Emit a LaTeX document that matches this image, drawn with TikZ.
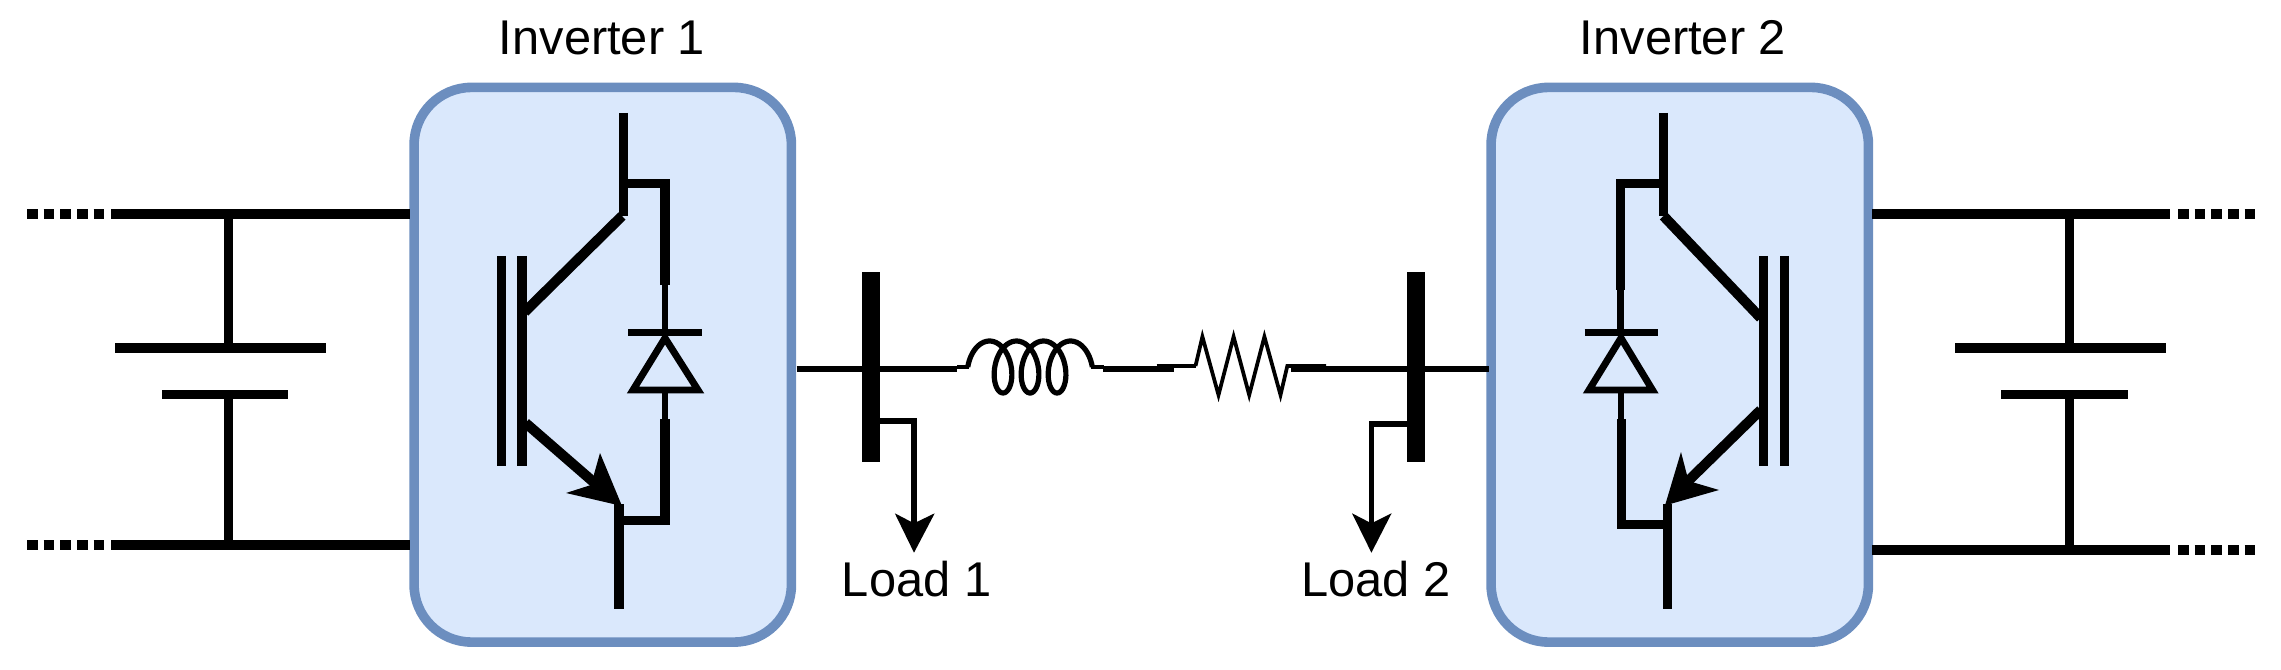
\documentclass[tikz,border=0pt]{standalone}
\usepackage{fontspec}
\setmainfont{Liberation Sans}
\definecolor{boxedge}{HTML}{6C8EBF}
\definecolor{boxfill}{HTML}{DAE8FC}
\tikzset{
  invbox/.style={draw=boxedge,fill=boxfill,line width=7.2pt,rounded corners=43pt,inner sep=0pt,minimum width=283pt,minimum height=416pt},
  bus/.style={line width=7.5pt,black},
  dots/.style={line width=7.5pt,black,dash pattern=on 7.9pt off 4.6pt},
  stem/.style={line width=7pt,black},
  plate/.style={line width=7.2pt,black},
  lead/.style={line width=6.8pt,black,line join=miter},
  thinlead/.style={line width=4.8pt,black},
  diag/.style={line width=7.6pt,black},
  gate/.style={line width=6.8pt,black},
  diode/.style={line width=5.2pt,black,line join=miter},
  tipfill/.style={fill=black,draw=none},
  barnode/.style={fill=black,draw=none,inner sep=0pt,minimum width=14pt,minimum height=142.5pt},
  feeder/.style={line width=4pt,black},
  stepline/.style={line width=3pt,black},
  coilline/.style={line width=3.9pt,black},
  resline/.style={line width=2.8pt,black,line join=miter},
  loadline/.style={line width=4pt,black},
  lbl/.style={font=\fontsize{36.6pt}{40pt}\selectfont,text=black,inner sep=0pt,anchor=base},
}
\begin{document}
\begin{tikzpicture}[x=0.75pt,y=-0.75pt]
\useasboundingbox (0,0) rectangle (2281,670);
% blocks
\node[invbox] (inv1) at (602.75,364.75) {};
\node[invbox] (inv2) at (1679.75,364.75) {};
\node[lbl] (t1) at (602,55) {Inverter 1};
\node[lbl] (t2) at (1683,55) {Inverter 2};
\node[lbl] (load1) at (916.6,596) {Load 1};
\node[lbl] (load2) at (1376,596) {Load 2};
\node[barnode] (bar1) at (871,366.7) {};
\node[barnode] (bar2) at (1416,366.7) {};
% coordinates
\coordinate (d1a) at (27,213.7); \coordinate (d1b) at (105,213.7);
\coordinate (d2a) at (27,545); \coordinate (d2b) at (105,545);
\coordinate (l1a) at (111,213.7); \coordinate (l1b) at (410,213.7);
\coordinate (l2a) at (111,545); \coordinate (l2b) at (410,545);
\coordinate (d3a) at (2178,213.7); \coordinate (d3b) at (2255,213.7);
\coordinate (d4a) at (2178,549.6); \coordinate (d4b) at (2255,549.6);
\coordinate (l3a) at (1872,213.7); \coordinate (l3b) at (2170,213.7);
\coordinate (l4a) at (1872,549.6); \coordinate (l4b) at (2170,549.6);
% left DC side
\draw[dots] (d1a) -- (d1b); \draw[dots] (d2a) -- (d2b);
\draw[bus] (l1a) -- (l1b); \draw[bus] (l2a) -- (l2b);
\draw[stem] (228.5,213.7) -- (228.5,348);
\draw[stem] (228.5,394.5) -- (228.5,545);
\draw[plate] (115,348) -- (326,348);
\draw[plate] (162,394.5) -- (288,394.5);
% right DC side
\draw[dots] (d3a) -- (d3b); \draw[dots] (d4a) -- (d4b);
\draw[bus] (l3a) -- (l3b); \draw[bus] (l4a) -- (l4b);
\draw[stem] (2069.3,213.7) -- (2069.3,348);
\draw[stem] (2069.3,394.5) -- (2069.3,549.6);
\draw[plate] (1955.3,348) -- (2166,348);
\draw[plate] (2001.3,394.5) -- (2128.4,394.5);
% IGBT 1
\draw[lead] (623.4,113) -- (623.4,216);
\draw[lead] (623.4,183.8) -- (665,183.8) -- (665,285);
\draw[thinlead] (665,285) -- (665,333);
\draw[diode] (628,332.5) -- (702,332.5);
\draw[diode] (665,338) -- (698,390) -- (633,390) -- cycle;
\draw[thinlead] (665,390) -- (665,419);
\draw[lead] (665,419) -- (665,520.5) -- (619,520.5);
\draw[lead] (619,504) -- (619,609);
\draw[gate] (501.6,256) -- (501.6,466);
\draw[gate] (522,256) -- (522,466);
\draw[diag] (622,216) -- (524.6,312);
\draw[diag] (525.6,423) -- (605,492);
\fill[tipfill] (622,506) -- (600,453) -- (591,485) -- (566,493) -- cycle;
% IGBT 2
\draw[lead] (1663.5,113) -- (1663.5,216);
\draw[lead] (1663.5,183.8) -- (1620.6,183.8) -- (1620.6,290);
\draw[thinlead] (1620.6,290) -- (1620.6,333);
\draw[diode] (1584.5,332.5) -- (1657.7,332.5);
\draw[diode] (1621,338) -- (1652.5,390) -- (1589,390) -- cycle;
\draw[thinlead] (1621,390) -- (1621,419);
\draw[lead] (1621.6,419) -- (1621.6,524.8) -- (1667.6,524.8);
\draw[lead] (1667.6,504) -- (1667.6,609);
\draw[gate] (1763.3,256) -- (1763.3,466);
\draw[gate] (1784.3,256) -- (1784.3,466);
\draw[diag] (1663.5,216) -- (1760.7,318);
\draw[diag] (1760.7,410) -- (1684,485);
\fill[tipfill] (1665,505.5) -- (1681,452) -- (1688.5,481) -- (1719,490) -- cycle;
% line with inductor and resistor
\coordinate (ac1) at (796.5,369); \coordinate (ac2) at (957,369);
\coordinate (ac3) at (1103,369); \coordinate (ac4) at (1174,369);
\coordinate (ac5) at (1291,369); \coordinate (ac6) at (1489,369);
\draw[feeder] (ac1) -- (ac2);
\draw[feeder] (ac3) -- (ac4);
\draw[feeder] (ac5) -- (ac6);
\draw[stepline] (957,366.7) -- (969,366.7);
\draw[coilline] plot[domain=-1.5708:20.42,samples=160,smooth] ({989.5+4.3*\x+15*sin(\x r)},{367-26*cos(\x r)});
\draw[stepline] (1091,366.7) -- (1103.7,366.7);
\draw[stepline] (1156.5,366) -- (1195.5,366);
\draw[resline] (1195.5,366) -- (1202.4,336.7) -- (1218.5,395) -- (1233.6,336.7) -- (1249.2,395) -- (1264.4,336.7) -- (1280.5,395) -- (1287.3,366) -- (1326,366);
% loads
\coordinate (tap1) at (880,421); \coordinate (tap1c) at (914,421); \coordinate (end1) at (914,525);
\draw[loadline] (tap1) -- (tap1c) -- (end1);
\fill[tipfill] (914,552.7) -- (894.8,513.3) -- (914,523.3) -- (934.7,513.3) -- cycle;
\coordinate (tap2) at (1406.7,424); \coordinate (tap2c) at (1371.4,424); \coordinate (end2) at (1371.4,525);
\draw[loadline] (tap2) -- (tap2c) -- (end2);
\fill[tipfill] (1371.4,552.7) -- (1352,513.3) -- (1371.4,523.3) -- (1391.6,513.3) -- cycle;
\end{tikzpicture}
\end{document}
